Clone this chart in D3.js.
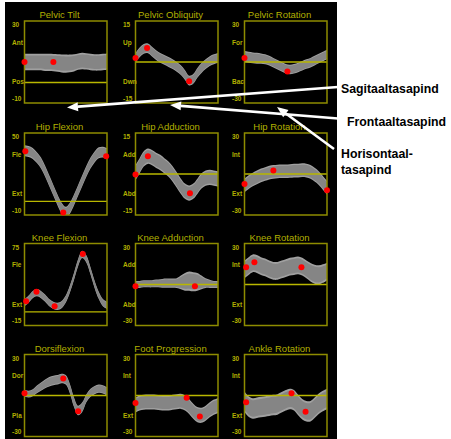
<!DOCTYPE html>
<html>
<head>
<meta charset="utf-8">
<script src="https://cdn.jsdelivr.net/npm/d3@7"></script>
<style>
  html, body { margin: 0; padding: 0; background: #fff; }
  svg { display: block; }
</style>
</head>
<body>
<svg id="chart" width="451" height="439"></svg>
<script>
// Gait cycle sampling (% of stride)
const gaitCycle = [0, 5, 10, 15, 20, 25, 30, 35, 40, 45, 50, 55, 60, 65, 70, 75, 80, 85, 90, 95, 100];

const panelTitles = ["Pelvic Tilt", "Pelvic Obliquity", "Pelvic Rotation",
                     "Hip Flexion", "Hip Adduction", "Hip Rotation",
                     "Knee Flexion", "Knee Adduction", "Knee Rotation",
                     "Dorsiflexion", "Foot Progression", "Ankle Rotation"];
const axisTop    = [30, 15, 30, 50, 15, 30, 75, 30, 30, 30, 30, 30];
const axisBottom = [-10, -15, -30, -10, -15, -30, -15, -30, -30, -30, -30, -30];
const upperLabels = ["Ant", "Up", "For", "Fle", "Add", "Int", "Fle", "Add", "Int", "Dor", "Int", "Int"];
const lowerLabels = ["Pos", "Dwn", "Bac", "Ext", "Abd", "Ext", "Ext", "Abd", "Ext", "Pla", "Ext", "Ext"];

// Normal-range means and spreads (degrees)
const pelvicTiltMean = [10, 10, 10, 10, 10, 9.8, 9.8, 9.7, 9.5, 9.3, 9.2, 9.3, 9.6, 10.2, 10.5, 10.3, 10, 9.8, 9.8, 10, 10.2];
const pelvicTiltSd   = [4, 4, 4, 4, 4, 4.2, 4.2, 4.2, 4.3, 4.4, 4.4, 4.3, 4.2, 4, 4, 4, 4, 4, 4, 4, 4];
const pelvicObliquityMean = [1.5, 3.5, 4.8, 5.0, 3.8, 2.5, 1.5, 0.8, 0, -0.8, -1.8, -3, -4.8, -6.8, -6.2, -4, -2.2, -0.8, 0.3, 1, 1.5];
const pelvicObliquitySd   = [1.8, 1.8, 1.8, 1.8, 1.8, 1.8, 1.8, 1.8, 1.8, 1.8, 1.8, 1.8, 1.8, 1.8, 1.8, 1.8, 1.8, 1.8, 1.8, 1.8, 1.8];
const pelvicRotationMean = [4, 3.5, 3, 2.8, 2.5, 2, 1, -0.5, -2, -3.5, -5, -5.5, -5, -4, -2.8, -1.5, -0.5, 1, 2.5, 4, 5.5];
const pelvicRotationSd   = [4, 4, 4, 4, 3.8, 3.6, 3.5, 3.5, 3.5, 3.5, 3.5, 3.5, 3.5, 3.5, 3.5, 3.5, 3.5, 3.5, 3.5, 3.5, 3.5];
const hipFlexionMean = [37, 36.5, 35, 32, 28, 22, 15, 8, 1, -5, -8, -5, 1, 8, 15, 22, 28, 32.5, 35.5, 36, 35];
const hipFlexionSd   = [4, 4, 4, 4, 4, 4, 4, 4, 4, 4, 4, 4, 4, 4, 4, 4, 4, 4, 4, 4, 4];
const hipAdductionMean = [0.5, 3, 5.5, 6.5, 6, 5, 4.2, 3, 1.8, 0, -2.2, -4.5, -6.3, -7, -6.3, -4.5, -2.5, -1.5, -1.2, -1.5, -1.8];
const hipAdductionSd   = [2.8, 2.8, 2.8, 2.8, 2.8, 2.8, 2.8, 2.8, 2.8, 2.8, 2.8, 2.8, 2.8, 2.8, 2.8, 2.8, 2.8, 2.8, 2.8, 2.8, 2.8];
const hipRotationMean = [-8.5, -6, -4, -2.5, -1, 0, 1, 1.5, 1.8, 2, 2, 2.2, 2.5, 2.5, 2.8, 2.5, 1.5, -0.5, -3, -6.5, -10];
const hipRotationSd   = [5, 5, 5, 5, 5, 5, 5, 5, 5, 5, 5, 5, 5, 5, 5, 5, 5, 5, 5, 5, 5];
const kneeFlexionMean = [10, 14, 19, 21, 19, 15, 10, 7, 6, 8, 14, 25, 39, 54, 63, 58, 45, 30, 18, 10, 7];
const kneeFlexionSd   = [4, 4, 4, 4, 4, 4, 4, 4, 4, 4, 4, 4, 4, 4, 4, 4, 4, 4, 4, 4, 4];
const kneeAdductionMean = [0, 0, 0.5, 0.5, 0.5, 0.8, 0.8, 1, 1, 1, 1, 1.5, 2, 2.5, 2, 2, 1.5, 1, 0.5, 0, 0];
const kneeAdductionSd   = [2.6, 2.6, 2.6, 2.6, 2.6, 2.8, 3, 3.4, 3.4, 3.4, 3.6, 5, 6.5, 7, 7, 6.5, 5, 3.5, 3, 2.6, 2.6];
const kneeRotationMean = [11, 13.5, 15.5, 15, 13.5, 12.5, 11, 10, 10, 11, 12, 13, 13.5, 14, 13, 11, 9, 7.5, 7, 8, 9.5];
const kneeRotationSd   = [6.5, 6.5, 6.5, 6.5, 6.5, 6.5, 6.5, 6.5, 6.5, 6.5, 6.5, 6.5, 6.5, 6.5, 6.5, 6.5, 6.8, 7, 7, 6.8, 6.5];
const dorsiflexionMean = [1.5, 1, 2, 4.5, 6.5, 8.5, 10, 11, 11.5, 12.5, 11.5, 5, -5, -11, -8.5, -2, 2, 4, 5, 4.5, 3];
const dorsiflexionSd   = [2.5, 2.5, 2.5, 2.8, 3, 3.2, 3.5, 3.5, 3.5, 3.5, 3.5, 3.5, 3.5, 3.5, 3.5, 3, 3, 3, 3, 3, 3];
const footProgressionMean = [-7, -5.5, -5, -4.8, -4.8, -5, -5.3, -5.5, -5.5, -5, -4.5, -4.3, -5.5, -8, -11.5, -14, -14.5, -13, -10.5, -8.5, -7.5];
const footProgressionSd   = [5.5, 5.5, 5.5, 5.5, 5.5, 5.5, 5.5, 5.5, 5.5, 5.5, 5.5, 5.5, 5.5, 5.5, 5.5, 5.5, 5.5, 5.5, 5.5, 5.5, 5.5];
const ankleRotationMean = [-4.5, -8, -9.5, -9, -8.5, -8, -7.5, -7, -6.5, -5, -3.5, -2.5, -3.5, -7, -10, -11.5, -11.5, -9, -6, -4, -2.5];
const ankleRotationSd   = [7.5, 7.5, 7.5, 7.5, 7.5, 7.5, 7.5, 7.5, 7.5, 7.5, 7.5, 7.5, 7.5, 7.5, 7.5, 7.5, 7.5, 7.5, 7.5, 7.5, 7.5];

// Gait events: [% of cycle, angle]
const pelvicTiltEvents      = [[0, 10], [35, 10]];
const pelvicObliquityEvents = [[0, 1.5], [14, 5.1], [65, -7]];
const pelvicRotationEvents  = [[0, 2.9], [52, -7]];
const hipFlexionEvents      = [[1, 36.7], [47, -8.2], [99, 33]];
const hipAdductionEvents    = [[0, -0.2], [15, 6.5], [66, -7]];
const hipRotationEvents     = [[0, -7.3], [35, 2.6], [100, -11.8]];
const kneeFlexionEvents     = [[2, 11.7], [14.5, 22], [36.5, 6.2], [70.7, 63.5]];
const kneeAdductionEvents   = [[0, -1.2], [72, -1.2]];
const kneeRotationEvents    = [[2, 12.7], [12, 16.3], [69, 12.7]];
const dorsiflexionEvents    = [[0, 1.7], [47, 12.5], [65, -11.5]];
const footProgressionEvents = [[0, -5.5], [62, -1.7], [78, -15.4]];
const ankleRotationEvents   = [[2, -5], [57, 1.7], [74, -11.8]];

// Plane annotations
const planeLabels = [["Sagitaaltasapind"], ["Frontaaltasapind"], ["Horisontaal-", "tasapind"]];

const means = [pelvicTiltMean, pelvicObliquityMean, pelvicRotationMean, hipFlexionMean, hipAdductionMean, hipRotationMean,
               kneeFlexionMean, kneeAdductionMean, kneeRotationMean, dorsiflexionMean, footProgressionMean, ankleRotationMean];
const sds = [pelvicTiltSd, pelvicObliquitySd, pelvicRotationSd, hipFlexionSd, hipAdductionSd, hipRotationSd,
             kneeFlexionSd, kneeAdductionSd, kneeRotationSd, dorsiflexionSd, footProgressionSd, ankleRotationSd];
const events = [pelvicTiltEvents, pelvicObliquityEvents, pelvicRotationEvents, hipFlexionEvents, hipAdductionEvents, hipRotationEvents,
                kneeFlexionEvents, kneeAdductionEvents, kneeRotationEvents, dorsiflexionEvents, footProgressionEvents, ankleRotationEvents];

// Layout
const colLeft = [24.5, 135.5, 244.5];
const rowTop = [21, 133, 243.5, 354.5];
const boxW = 82.5, boxH = 82;
const yellow = "#b2b000", boxColor = "#8e8c00", zeroColor = "#b9b700";
const font = "'Liberation Sans', Arial, sans-serif";

const svg = d3.select("#chart");
svg.append("rect").attr("x", 5).attr("y", 2).attr("width", 332).attr("height", 437).attr("fill", "#000");

const idx = d3.range(gaitCycle.length);

panelTitles.forEach((title, i) => {
  const col = i % 3, row = Math.floor(i / 3);
  const x0 = colLeft[col], y0 = rowTop[row];
  const x = d3.scaleLinear().domain([0, 100]).range([x0, x0 + boxW]);
  const y = d3.scaleLinear().domain([axisBottom[i], axisTop[i]]).range([y0 + boxH, y0]);
  const mean = means[i], sd = sds[i];
  const g = svg.append("g");

  g.append("clipPath").attr("id", "clip" + i)
    .append("rect").attr("x", x0).attr("y", y0).attr("width", boxW).attr("height", boxH);

  const band = k => d3.area()
    .x(j => x(gaitCycle[j]))
    .y0(j => y(mean[j] - k * sd[j]))
    .y1(j => y(mean[j] + k * sd[j]))
    .curve(d3.curveCatmullRom.alpha(0.5));

  const bands = g.append("g").attr("clip-path", `url(#clip${i})`);
  bands.append("path").datum(idx).attr("d", band(1)).attr("fill", "#a0a0a0");
  bands.append("path").datum(idx).attr("d", band(0.8)).attr("fill", "#858585");

  // zero reference line
  g.append("line")
    .attr("x1", x0).attr("x2", x0 + boxW)
    .attr("y1", y(0)).attr("y2", y(0))
    .attr("stroke", zeroColor).attr("stroke-width", 1.4);

  g.append("rect")
    .attr("x", x0).attr("y", y0).attr("width", boxW).attr("height", boxH)
    .attr("fill", "none").attr("stroke", boxColor).attr("stroke-width", 1.5);

  g.append("text")
    .attr("x", (x0 - 12.5 + x0 + boxW) / 2).attr("y", y0 - 3)
    .attr("text-anchor", "middle")
    .attr("font-family", font).attr("font-size", 9.5)
    .attr("fill", yellow)
    .text(title);

  const lbl = [[axisTop[i], y0 + 4], [upperLabels[i], y0 + 21.5], [lowerLabels[i], y0 + 61], [axisBottom[i], y0 + boxH - 4.5]];
  lbl.forEach(([t, ly]) => {
    g.append("text")
      .attr("x", x0 - 12.5).attr("y", ly)
      .attr("dy", "0.35em")
      .attr("font-family", font).attr("font-size", 6.5).attr("font-weight", "bold")
      .attr("fill", yellow)
      .text(t);
  });

  g.selectAll("circle.ev").data(events[i]).enter().append("circle")
    .attr("class", "ev")
    .attr("cx", d => x(d[0])).attr("cy", d => y(d[1]))
    .attr("r", 3).attr("fill", "#ff0000");
});

// Arrows pointing from plane labels to the panel rows
const arrows = [
  { from: [338, 87], to: [67, 107.5] },
  { from: [338, 118.5], to: [170, 105] },
  { from: [334, 149], to: [277, 107] }
];
arrows.forEach(a => {
  const [fx, fy] = a.from, [tx, ty] = a.to;
  const ang = Math.atan2(ty - fy, tx - fx);
  const len = 11, hw = 4.5;
  const bx = tx - len * Math.cos(ang), by = ty - len * Math.sin(ang);
  svg.append("line")
    .attr("x1", fx).attr("y1", fy).attr("x2", bx).attr("y2", by)
    .attr("stroke", "#fff").attr("stroke-width", 2.6);
  const px = -Math.sin(ang) * hw, py = Math.cos(ang) * hw;
  svg.append("polygon")
    .attr("points", [[tx, ty], [bx + px, by + py], [bx - px, by - py]].map(p => p.join(",")).join(" "))
    .attr("fill", "#fff");
});

const planePos = [[341, 93], [347, 126], [341, 158]];
planeLabels.forEach((lines, i) => {
  lines.forEach((t, k) => {
    svg.append("text")
      .attr("x", planePos[i][0]).attr("y", planePos[i][1] + k * 16)
      .attr("font-family", font).attr("font-size", 12.3).attr("font-weight", "bold")
      .attr("fill", "#000")
      .text(t);
  });
});
</script>
</body>
</html>
